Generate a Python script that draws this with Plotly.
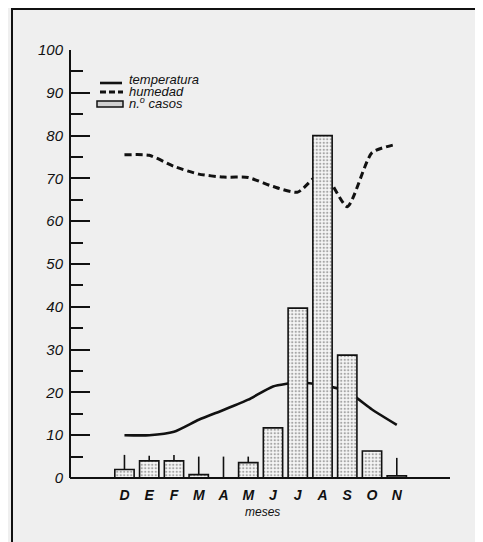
import plotly.graph_objects as go

months = ["D", "E", "F", "M", "A", "M", "J", "J", "A", "S", "O", "N"]
month_pos = list(range(len(months)))
temperatura = [10, 10, 10.8, 13.6, 15.9, 18.3, 21.4, 22.3, 21.7, 20.2, 16, 12.4]
humedad = [75.5, 75.4, 72.8, 71, 70.3, 70.2, 68.1, 66.8, 71.5, 63.4, 76, 78]
casos = [2, 4, 4, 0.8, 0, 3.6, 11.7, 39.7, 80, 28.7, 6.3, 0.5]
casos_err = [3.4, 1.2, 1.4, 4.2, 5, 1.4, 0, 0, 0, 0, 0, 4.2]
yticks = [0, 10, 20, 30, 40, 50, 60, 70, 80, 90, 100]

BG = "#efefef"
FONT = "Liberation Sans"
XR = [-2.2, 13.15]

fig = go.Figure()
fig.add_trace(go.Scatter(
    x=month_pos, y=temperatura, mode="lines", name="temperatura",
    line=dict(color="#111", width=2.6, shape="spline", smoothing=0.6),
    showlegend=False, zorder=0,
))
fig.add_trace(go.Scatter(
    x=month_pos, y=humedad, mode="lines", name="humedad",
    line=dict(color="#111", width=3, dash="7px,4px", shape="spline", smoothing=0.6),
    showlegend=False, zorder=0,
))
fig.add_trace(go.Bar(
    x=month_pos, y=casos, name="n.º casos", width=0.78,
    marker=dict(color="#f6f6f6", line=dict(color="#111", width=1.6),
                pattern=dict(shape=".", fgcolor="#555", bgcolor="#f6f6f6",
                             size=3.5, solidity=0.35)),
    error_y=dict(type="data", symmetric=False, array=casos_err,
                 arrayminus=[0] * len(casos_err), color="#111",
                 thickness=1.6, width=0),
    showlegend=False, zorder=1,
))

# page pixel -> paper coords (plot area spans page x 70..450, y 50..478)
def px(v):
    return (v - 70) / 380

def py(v):
    return (478 - v) / 428

shapes = [
    # frame
    dict(type="rect", xref="paper", yref="paper", x0=px(12), x1=px(476),
         y0=py(570), y1=py(9), line=dict(color="#111", width=2), layer="above"),
    # axis lines
    dict(type="line", xref="paper", yref="paper", x0=0, x1=1, y0=0, y1=0,
         line=dict(color="#111", width=2), layer="above"),
    dict(type="line", xref="paper", yref="paper", x0=0, x1=0, y0=0, y1=1,
         line=dict(color="#111", width=2), layer="above"),
    # legend keys
    dict(type="line", xref="paper", yref="paper", x0=px(100), x1=px(122),
         y0=py(83), y1=py(83), line=dict(color="#111", width=2.6)),
    dict(type="line", xref="paper", yref="paper", x0=px(100), x1=px(123),
         y0=py(92), y1=py(92), line=dict(color="#111", width=3, dash="6px,3px")),
    dict(type="rect", xref="paper", yref="paper", x0=px(97), x1=px(123),
         y0=py(107), y1=py(101), fillcolor="#d0d0d0",
         line=dict(color="#111", width=1.5)),
]
legend_txt = [("temperatura", 80), ("humedad", 91), ("n.<sup>o</sup> casos", 103)]
annotations = [
    dict(text=t, xref="paper", yref="paper", x=px(127), y=py(yy),
         xanchor="left", yanchor="middle", showarrow=False,
         font=dict(family=FONT, size=13, style="italic", color="#111"))
    for t, yy in legend_txt
]
annotations.append(dict(text="meses", xref="paper", yref="paper", x=px(262),
                        y=py(512), xanchor="center", yanchor="middle",
                        showarrow=False,
                        font=dict(family=FONT, size=12, style="italic", color="#111")))

# the page body has an 8px margin, so the figure is laid out 8px up/left
fig.update_layout(
    width=483, height=542,
    margin=dict(l=62, r=41, t=42, b=72),
    paper_bgcolor=BG, plot_bgcolor=BG,
    shapes=shapes, annotations=annotations,
    xaxis=dict(range=XR, tickvals=month_pos, ticktext=months,
               showline=False, ticks="",
               showgrid=False, zeroline=False, ticklabelstandoff=7,
               tickfont=dict(family=FONT, size=14, style="italic",
                             weight="bold", color="#111")),
    yaxis=dict(range=[0, 100], tickvals=yticks,
               showline=False,
               ticks="inside", ticklen=20, tickwidth=2, tickcolor="#111",
               minor=dict(ticks="inside", ticklen=13, tickwidth=2,
                          tickcolor="#111", dtick=5, showgrid=False),
               showgrid=False, zeroline=False, ticklabelstandoff=6,
               tickfont=dict(family=FONT, size=15, style="italic", color="#111")),
)

fig.write_html("out.html")
